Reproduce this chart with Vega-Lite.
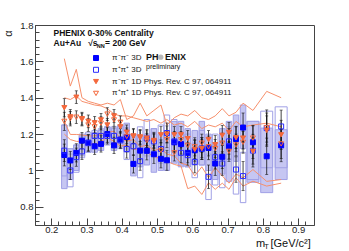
{
"$schema": "https://vega.github.io/schema/vega-lite/v6.json",
"width": 279, "height": 200,
"autosize": {"type": "none"},
"padding": {"left": 35, "top": 25, "right": 35, "bottom": 26},
"config": {"font": "Liberation Sans", "view": {"stroke": "#444", "strokeWidth": 1},
  "axis": {"grid": false, "domainColor": "#444", "tickColor": "#444", "labelColor": "#222", "labelFontSize": 9.5, "labelFont": "Liberation Sans"},
  "legend": {"orient": "none", "legendX": 57, "legendY": 29, "title": null, "labelFontSize": 8, "labelFont": "Liberation Sans", "labelColor": "#222", "symbolSize": 25, "symbolStrokeWidth": 1, "rowPadding": 1.8, "labelOffset": 12, "padding": 0}},
"datasets": {
"pts": [
{"x":0.237,"s":"π⁻π⁻ 3D","a":1.085,"e":0.06,"lo":0.90,"hi":1.25},{"x":0.237,"s":"π⁺π⁺ 3D","a":1.109,"e":0.06,"lo":0.97,"hi":1.25},{"x":0.237,"s":"π⁻π⁻ 1D Phys. Rev. C 97, 064911","a":1.345,"e":0.05},{"x":0.237,"s":"π⁺π⁺ 1D Phys. Rev. C 97, 064911","a":1.27,"e":0.05},
{"x":0.254,"s":"π⁻π⁻ 3D","a":1.055,"e":0.05,"lo":0.95,"hi":1.12},{"x":0.254,"s":"π⁺π⁺ 3D","a":1.0,"e":0.05,"lo":0.91,"hi":1.09},{"x":0.254,"s":"π⁻π⁻ 1D Phys. Rev. C 97, 064911","a":1.295,"e":0.04},{"x":0.254,"s":"π⁺π⁺ 1D Phys. Rev. C 97, 064911","a":1.285,"e":0.04},
{"x":0.271,"s":"π⁻π⁻ 3D","a":1.097,"e":0.05,"lo":1.0,"hi":1.14},{"x":0.271,"s":"π⁺π⁺ 3D","a":1.073,"e":0.05,"lo":0.99,"hi":1.14},{"x":0.271,"s":"π⁻π⁻ 1D Phys. Rev. C 97, 064911","a":1.403,"e":0.035},{"x":0.271,"s":"π⁺π⁺ 1D Phys. Rev. C 97, 064911","a":1.293,"e":0.035},
{"x":0.287,"s":"π⁻π⁻ 3D","a":1.164,"e":0.045,"lo":1.08,"hi":1.20},{"x":0.287,"s":"π⁺π⁺ 3D","a":1.105,"e":0.045,"lo":1.07,"hi":1.19},{"x":0.287,"s":"π⁻π⁻ 1D Phys. Rev. C 97, 064911","a":1.285,"e":0.035},{"x":0.287,"s":"π⁺π⁺ 1D Phys. Rev. C 97, 064911","a":1.28,"e":0.035},
{"x":0.305,"s":"π⁻π⁻ 3D","a":1.153,"e":0.045,"lo":1.10,"hi":1.20},{"x":0.305,"s":"π⁺π⁺ 3D","a":1.15,"e":0.045,"lo":1.10,"hi":1.21},{"x":0.305,"s":"π⁻π⁻ 1D Phys. Rev. C 97, 064911","a":1.27,"e":0.035},{"x":0.305,"s":"π⁺π⁺ 1D Phys. Rev. C 97, 064911","a":1.25,"e":0.035},
{"x":0.323,"s":"π⁻π⁻ 3D","a":1.133,"e":0.045,"lo":1.10,"hi":1.21},{"x":0.323,"s":"π⁺π⁺ 3D","a":1.19,"e":0.045,"lo":1.13,"hi":1.22},{"x":0.323,"s":"π⁻π⁻ 1D Phys. Rev. C 97, 064911","a":1.262,"e":0.035},{"x":0.323,"s":"π⁺π⁺ 1D Phys. Rev. C 97, 064911","a":1.24,"e":0.035},
{"x":0.341,"s":"π⁻π⁻ 3D","a":1.146,"e":0.045,"lo":1.11,"hi":1.22},{"x":0.341,"s":"π⁺π⁺ 3D","a":1.19,"e":0.045,"lo":1.14,"hi":1.23},{"x":0.341,"s":"π⁻π⁻ 1D Phys. Rev. C 97, 064911","a":1.278,"e":0.035},{"x":0.341,"s":"π⁺π⁺ 1D Phys. Rev. C 97, 064911","a":1.26,"e":0.035},
{"x":0.359,"s":"π⁻π⁻ 3D","a":1.20,"e":0.045,"lo":1.15,"hi":1.24},{"x":0.359,"s":"π⁺π⁺ 3D","a":1.19,"e":0.045,"lo":1.14,"hi":1.24},{"x":0.359,"s":"π⁻π⁻ 1D Phys. Rev. C 97, 064911","a":1.25,"e":0.035},{"x":0.359,"s":"π⁺π⁺ 1D Phys. Rev. C 97, 064911","a":1.31,"e":0.035},
{"x":0.378,"s":"π⁻π⁻ 3D","a":1.138,"e":0.045,"lo":1.11,"hi":1.23},{"x":0.378,"s":"π⁺π⁺ 3D","a":1.19,"e":0.045,"lo":1.14,"hi":1.24},{"x":0.378,"s":"π⁻π⁻ 1D Phys. Rev. C 97, 064911","a":1.30,"e":0.035},{"x":0.378,"s":"π⁺π⁺ 1D Phys. Rev. C 97, 064911","a":1.278,"e":0.035},
{"x":0.396,"s":"π⁻π⁻ 3D","a":1.17,"e":0.045,"lo":1.13,"hi":1.25},{"x":0.396,"s":"π⁺π⁺ 3D","a":1.165,"e":0.045,"lo":1.12,"hi":1.24},{"x":0.396,"s":"π⁻π⁻ 1D Phys. Rev. C 97, 064911","a":1.24,"e":0.035},{"x":0.396,"s":"π⁺π⁺ 1D Phys. Rev. C 97, 064911","a":1.265,"e":0.035},
{"x":0.414,"s":"π⁻π⁻ 3D","a":1.184,"e":0.05,"lo":1.10,"hi":1.26},{"x":0.414,"s":"π⁺π⁺ 3D","a":1.118,"e":0.05,"lo":1.06,"hi":1.19},{"x":0.414,"s":"π⁻π⁻ 1D Phys. Rev. C 97, 064911","a":1.21,"e":0.04},{"x":0.414,"s":"π⁺π⁺ 1D Phys. Rev. C 97, 064911","a":1.187,"e":0.04},
{"x":0.433,"s":"π⁻π⁻ 3D","a":1.036,"e":0.05,"lo":0.97,"hi":1.20},{"x":0.433,"s":"π⁺π⁺ 3D","a":1.133,"e":0.05,"lo":1.05,"hi":1.19},{"x":0.433,"s":"π⁻π⁻ 1D Phys. Rev. C 97, 064911","a":1.187,"e":0.04},{"x":0.433,"s":"π⁺π⁺ 1D Phys. Rev. C 97, 064911","a":1.19,"e":0.04},
{"x":0.452,"s":"π⁻π⁻ 3D","a":1.109,"e":0.05,"lo":1.02,"hi":1.18},{"x":0.452,"s":"π⁺π⁺ 3D","a":1.051,"e":0.05,"lo":0.96,"hi":1.24},{"x":0.452,"s":"π⁻π⁻ 1D Phys. Rev. C 97, 064911","a":1.18,"e":0.04},{"x":0.452,"s":"π⁺π⁺ 1D Phys. Rev. C 97, 064911","a":1.185,"e":0.04},
{"x":0.471,"s":"π⁻π⁻ 3D","a":1.108,"e":0.05,"lo":1.03,"hi":1.20},{"x":0.471,"s":"π⁺π⁺ 3D","a":1.176,"e":0.05,"lo":1.08,"hi":1.28},{"x":0.471,"s":"π⁻π⁻ 1D Phys. Rev. C 97, 064911","a":1.178,"e":0.04},{"x":0.471,"s":"π⁺π⁺ 1D Phys. Rev. C 97, 064911","a":1.165,"e":0.04},
{"x":0.491,"s":"π⁻π⁻ 3D","a":1.089,"e":0.05,"lo":0.99,"hi":1.23},{"x":0.491,"s":"π⁺π⁺ 3D","a":1.16,"e":0.05,"lo":1.08,"hi":1.23},{"x":0.491,"s":"π⁻π⁻ 1D Phys. Rev. C 97, 064911","a":1.165,"e":0.04},{"x":0.491,"s":"π⁺π⁺ 1D Phys. Rev. C 97, 064911","a":1.16,"e":0.04},
{"x":0.511,"s":"π⁻π⁻ 3D","a":1.064,"e":0.05,"lo":1.0,"hi":1.20},{"x":0.511,"s":"π⁺π⁺ 3D","a":1.118,"e":0.05,"lo":1.04,"hi":1.25},{"x":0.511,"s":"π⁻π⁻ 1D Phys. Rev. C 97, 064911","a":1.196,"e":0.045},{"x":0.511,"s":"π⁺π⁺ 1D Phys. Rev. C 97, 064911","a":1.11,"e":0.045},
{"x":0.528,"s":"π⁻π⁻ 3D","a":1.056,"e":0.055,"lo":1.0,"hi":1.20},{"x":0.528,"s":"π⁺π⁺ 3D","a":1.206,"e":0.055,"lo":1.10,"hi":1.305},{"x":0.528,"s":"π⁻π⁻ 1D Phys. Rev. C 97, 064911","a":1.20,"e":0.045},{"x":0.528,"s":"π⁺π⁺ 1D Phys. Rev. C 97, 064911","a":1.17,"e":0.045},
{"x":0.549,"s":"π⁻π⁻ 3D","a":1.155,"e":0.055,"lo":1.04,"hi":1.27},{"x":0.549,"s":"π⁺π⁺ 3D","a":1.16,"e":0.055,"lo":1.08,"hi":1.28},{"x":0.549,"s":"π⁻π⁻ 1D Phys. Rev. C 97, 064911","a":1.196,"e":0.045},{"x":0.549,"s":"π⁺π⁺ 1D Phys. Rev. C 97, 064911","a":1.097,"e":0.045},
{"x":0.568,"s":"π⁻π⁻ 3D","a":1.145,"e":0.055,"lo":1.02,"hi":1.27},{"x":0.568,"s":"π⁺π⁺ 3D","a":1.097,"e":0.055,"lo":1.03,"hi":1.20},{"x":0.568,"s":"π⁻π⁻ 1D Phys. Rev. C 97, 064911","a":1.196,"e":0.045},{"x":0.568,"s":"π⁺π⁺ 1D Phys. Rev. C 97, 064911","a":1.169,"e":0.045},
{"x":0.587,"s":"π⁻π⁻ 3D","a":1.097,"e":0.055,"lo":1.02,"hi":1.23},{"x":0.587,"s":"π⁺π⁺ 3D","a":1.084,"e":0.055,"lo":1.02,"hi":1.20},{"x":0.587,"s":"π⁻π⁻ 1D Phys. Rev. C 97, 064911","a":1.175,"e":0.045},{"x":0.587,"s":"π⁺π⁺ 1D Phys. Rev. C 97, 064911","a":1.138,"e":0.045},
{"x":0.607,"s":"π⁻π⁻ 3D","a":1.111,"e":0.06,"lo":1.03,"hi":1.22},{"x":0.607,"s":"π⁺π⁺ 3D","a":1.047,"e":0.06,"lo":0.96,"hi":1.15},{"x":0.607,"s":"π⁻π⁻ 1D Phys. Rev. C 97, 064911","a":1.115,"e":0.05},{"x":0.607,"s":"π⁺π⁺ 1D Phys. Rev. C 97, 064911","a":1.13,"e":0.05},
{"x":0.627,"s":"π⁻π⁻ 3D","a":1.12,"e":0.06,"lo":1.03,"hi":1.27},{"x":0.627,"s":"π⁺π⁺ 3D","a":1.12,"e":0.06,"lo":1.03,"hi":1.22},{"x":0.627,"s":"π⁻π⁻ 1D Phys. Rev. C 97, 064911","a":1.12,"e":0.05},{"x":0.627,"s":"π⁺π⁺ 1D Phys. Rev. C 97, 064911","a":1.15,"e":0.05},
{"x":0.646,"s":"π⁻π⁻ 3D","a":1.124,"e":0.065,"lo":1.0,"hi":1.20},{"x":0.646,"s":"π⁺π⁺ 3D","a":0.965,"e":0.065,"lo":0.84,"hi":1.09},{"x":0.646,"s":"π⁻π⁻ 1D Phys. Rev. C 97, 064911","a":1.17,"e":0.05},{"x":0.646,"s":"π⁺π⁺ 1D Phys. Rev. C 97, 064911","a":1.13,"e":0.05},
{"x":0.665,"s":"π⁻π⁻ 3D","a":1.038,"e":0.065,"lo":0.95,"hi":1.15},{"x":0.665,"s":"π⁺π⁺ 3D","a":1.073,"e":0.065,"lo":0.92,"hi":1.20},{"x":0.665,"s":"π⁻π⁻ 1D Phys. Rev. C 97, 064911","a":1.142,"e":0.05},{"x":0.665,"s":"π⁺π⁺ 1D Phys. Rev. C 97, 064911","a":1.12,"e":0.05},
{"x":0.685,"s":"π⁻π⁻ 3D","a":1.075,"e":0.065,"lo":0.98,"hi":1.23},{"x":0.685,"s":"π⁺π⁺ 3D","a":1.038,"e":0.065,"lo":0.905,"hi":1.16},{"x":0.685,"s":"π⁻π⁻ 1D Phys. Rev. C 97, 064911","a":1.193,"e":0.055},{"x":0.685,"s":"π⁺π⁺ 1D Phys. Rev. C 97, 064911","a":1.15,"e":0.055},
{"x":0.704,"s":"π⁻π⁻ 3D","a":1.133,"e":0.07,"lo":0.94,"hi":1.27},{"x":0.704,"s":"π⁺π⁺ 3D","a":1.16,"e":0.07,"lo":1.06,"hi":1.24},{"x":0.704,"s":"π⁻π⁻ 1D Phys. Rev. C 97, 064911","a":1.209,"e":0.055},{"x":0.704,"s":"π⁺π⁺ 1D Phys. Rev. C 97, 064911","a":1.105,"e":0.055},
{"x":0.724,"s":"π⁻π⁻ 3D","a":1.173,"e":0.07,"lo":1.05,"hi":1.305},{"x":0.724,"s":"π⁺π⁺ 3D","a":1.005,"e":0.07,"lo":0.87,"hi":1.13},{"x":0.724,"s":"π⁻π⁻ 1D Phys. Rev. C 97, 064911","a":1.18,"e":0.06},{"x":0.724,"s":"π⁺π⁺ 1D Phys. Rev. C 97, 064911","a":1.14,"e":0.06},
{"x":0.744,"s":"π⁻π⁻ 3D","a":1.236,"e":0.08,"lo":1.12,"hi":1.36},{"x":0.744,"s":"π⁺π⁺ 3D","a":0.969,"e":0.08,"lo":0.823,"hi":1.10},{"x":0.744,"s":"π⁻π⁻ 1D Phys. Rev. C 97, 064911","a":1.178,"e":0.06},{"x":0.744,"s":"π⁺π⁺ 1D Phys. Rev. C 97, 064911","a":1.155,"e":0.06},
{"x":0.772,"s":"π⁻π⁻ 3D","a":1.155,"e":0.09,"lo":0.935,"hi":1.27},{"x":0.772,"s":"π⁺π⁺ 3D","a":1.109,"e":0.09,"lo":0.95,"hi":1.27},{"x":0.772,"s":"π⁻π⁻ 1D Phys. Rev. C 97, 064911","a":1.105,"e":0.07},{"x":0.772,"s":"π⁺π⁺ 1D Phys. Rev. C 97, 064911","a":1.178,"e":0.07},
{"x":0.811,"s":"π⁻π⁻ 3D","a":1.078,"e":0.1,"lo":0.878,"hi":1.233},{"x":0.811,"s":"π⁺π⁺ 3D","a":1.233,"e":0.1,"lo":1.015,"hi":1.326},{"x":0.811,"s":"π⁻π⁻ 1D Phys. Rev. C 97, 064911","a":1.22,"e":0.08},{"x":0.811,"s":"π⁺π⁺ 1D Phys. Rev. C 97, 064911","a":1.236,"e":0.08},
{"x":0.852,"s":"π⁻π⁻ 3D","a":1.138,"e":0.09,"lo":0.95,"hi":1.224},{"x":0.852,"s":"π⁺π⁺ 3D","a":1.242,"e":0.09,"lo":1.015,"hi":1.35},{"x":0.852,"s":"π⁻π⁻ 1D Phys. Rev. C 97, 064911","a":1.196,"e":0.08},{"x":0.852,"s":"π⁺π⁺ 1D Phys. Rev. C 97, 064911","a":1.146,"e":0.08}
],
"lines": [
{"x":0.237,"l":"U1","a":1.615},{"x":0.254,"l":"U1","a":1.464},{"x":0.271,"l":"U1","a":1.556},{"x":0.287,"l":"U1","a":1.40},{"x":0.305,"l":"U1","a":1.38},{"x":0.323,"l":"U1","a":1.37},{"x":0.341,"l":"U1","a":1.36},{"x":0.359,"l":"U1","a":1.37},{"x":0.378,"l":"U1","a":1.36},{"x":0.396,"l":"U1","a":1.39},{"x":0.414,"l":"U1","a":1.28},{"x":0.433,"l":"U1","a":1.30},{"x":0.452,"l":"U1","a":1.37},{"x":0.471,"l":"U1","a":1.30},{"x":0.491,"l":"U1","a":1.33},{"x":0.511,"l":"U1","a":1.36},{"x":0.528,"l":"U1","a":1.25},{"x":0.549,"l":"U1","a":1.29},{"x":0.568,"l":"U1","a":1.31},{"x":0.587,"l":"U1","a":1.30},{"x":0.607,"l":"U1","a":1.33},{"x":0.627,"l":"U1","a":1.29},{"x":0.646,"l":"U1","a":1.28},{"x":0.665,"l":"U1","a":1.30},{"x":0.685,"l":"U1","a":1.34},{"x":0.704,"l":"U1","a":1.30},{"x":0.724,"l":"U1","a":1.32},{"x":0.744,"l":"U1","a":1.37},{"x":0.772,"l":"U1","a":1.33},{"x":0.811,"l":"U1","a":1.435},{"x":0.852,"l":"U1","a":1.40},
{"x":0.237,"l":"U2","a":1.40},{"x":0.254,"l":"U2","a":1.39},{"x":0.271,"l":"U2","a":1.41},{"x":0.287,"l":"U2","a":1.38},{"x":0.305,"l":"U2","a":1.37},{"x":0.323,"l":"U2","a":1.36},{"x":0.341,"l":"U2","a":1.355},{"x":0.359,"l":"U2","a":1.34},{"x":0.378,"l":"U2","a":1.31},{"x":0.396,"l":"U2","a":1.30},{"x":0.414,"l":"U2","a":1.30},{"x":0.433,"l":"U2","a":1.29},{"x":0.452,"l":"U2","a":1.28},{"x":0.471,"l":"U2","a":1.27},{"x":0.491,"l":"U2","a":1.28},{"x":0.511,"l":"U2","a":1.26},{"x":0.528,"l":"U2","a":1.28},{"x":0.549,"l":"U2","a":1.25},{"x":0.568,"l":"U2","a":1.26},{"x":0.587,"l":"U2","a":1.24},{"x":0.607,"l":"U2","a":1.27},{"x":0.627,"l":"U2","a":1.23},{"x":0.646,"l":"U2","a":1.25},{"x":0.665,"l":"U2","a":1.24},{"x":0.685,"l":"U2","a":1.26},{"x":0.704,"l":"U2","a":1.22},{"x":0.724,"l":"U2","a":1.27},{"x":0.744,"l":"U2","a":1.24},{"x":0.772,"l":"U2","a":1.25},{"x":0.811,"l":"U2","a":1.26},{"x":0.852,"l":"U2","a":1.24},
{"x":0.237,"l":"L1","a":1.27},{"x":0.254,"l":"L1","a":1.198},{"x":0.271,"l":"L1","a":1.198},{"x":0.287,"l":"L1","a":1.195},{"x":0.305,"l":"L1","a":1.19},{"x":0.323,"l":"L1","a":1.19},{"x":0.341,"l":"L1","a":1.20},{"x":0.359,"l":"L1","a":1.21},{"x":0.378,"l":"L1","a":1.216},{"x":0.396,"l":"L1","a":1.18},{"x":0.414,"l":"L1","a":1.16},{"x":0.433,"l":"L1","a":1.17},{"x":0.452,"l":"L1","a":1.13},{"x":0.471,"l":"L1","a":1.14},{"x":0.491,"l":"L1","a":1.11},{"x":0.511,"l":"L1","a":1.12},{"x":0.528,"l":"L1","a":1.09},{"x":0.549,"l":"L1","a":1.08},{"x":0.568,"l":"L1","a":1.04},{"x":0.587,"l":"L1","a":1.03},{"x":0.607,"l":"L1","a":0.97},{"x":0.627,"l":"L1","a":1.02},{"x":0.646,"l":"L1","a":0.96},{"x":0.665,"l":"L1","a":1.015},{"x":0.685,"l":"L1","a":0.97},{"x":0.704,"l":"L1","a":0.93},{"x":0.724,"l":"L1","a":0.98},{"x":0.744,"l":"L1","a":0.96},{"x":0.772,"l":"L1","a":1.005},{"x":0.811,"l":"L1","a":0.94},{"x":0.852,"l":"L1","a":0.95},
{"x":0.237,"l":"L2","a":1.20},{"x":0.254,"l":"L2","a":1.17},{"x":0.271,"l":"L2","a":1.16},{"x":0.287,"l":"L2","a":1.16},{"x":0.305,"l":"L2","a":1.15},{"x":0.323,"l":"L2","a":1.143},{"x":0.341,"l":"L2","a":1.16},{"x":0.359,"l":"L2","a":1.18},{"x":0.378,"l":"L2","a":1.16},{"x":0.396,"l":"L2","a":1.134},{"x":0.414,"l":"L2","a":1.14},{"x":0.433,"l":"L2","a":1.115},{"x":0.452,"l":"L2","a":1.12},{"x":0.471,"l":"L2","a":1.097},{"x":0.491,"l":"L2","a":1.08},{"x":0.511,"l":"L2","a":1.06},{"x":0.528,"l":"L2","a":1.05},{"x":0.549,"l":"L2","a":1.033},{"x":0.568,"l":"L2","a":1.024},{"x":0.587,"l":"L2","a":0.90},{"x":0.607,"l":"L2","a":0.914},{"x":0.627,"l":"L2","a":0.868},{"x":0.646,"l":"L2","a":0.932},{"x":0.665,"l":"L2","a":0.896},{"x":0.685,"l":"L2","a":0.93},{"x":0.704,"l":"L2","a":0.896},{"x":0.724,"l":"L2","a":0.96},{"x":0.744,"l":"L2","a":0.914},{"x":0.772,"l":"L2","a":0.941},{"x":0.811,"l":"L2","a":0.914},{"x":0.852,"l":"L2","a":0.93}
]
},
"layer": [
{"data": {"name": "pts"},
 "transform": [{"filter": "datum.s === 'π⁻π⁻ 3D' && datum.x < 0.76"}],
 "mark": {"type": "bar", "width": 5.5, "fill": "#c6c6f2", "stroke": "#a0a0e6", "strokeWidth": 1},
 "encoding": {
  "x": {"field": "x", "type": "quantitative", "title": null, "scale": {"domain": [0.168, 0.931], "nice": false, "zero": false},
   "axis": {"values": [0.18,0.2,0.22,0.24,0.26,0.28,0.3,0.32,0.34,0.36,0.38,0.4,0.42,0.44,0.46,0.48,0.5,0.52,0.54,0.56,0.58,0.6,0.62,0.64,0.66,0.68,0.7,0.72,0.74,0.76,0.78,0.8,0.82,0.84,0.86,0.88,0.9,0.92], "tickCount": 200,
    "labelExpr": "abs(datum.value*10 - round(datum.value*10)) < 0.001 ? format(datum.value, '~g') : ''",
    "tickSize": {"condition": {"test": "abs(datum.value*10 - round(datum.value*10)) < 0.001", "value": -7}, "value": -4},
    "labelPadding": 6, "labelFlush": false, "labelOverlap": false}},
  "y": {"field": "lo", "type": "quantitative", "title": "α", "scale": {"domain": [0.7, 1.8], "nice": false, "zero": false},
   "axis": {"titleX": -27, "titleY": 8, "titleAngle": -90, "titleFontSize": 11, "titleFontWeight": "normal", "titleColor": "#222", "titleAlign": "center", "titleBaseline": "middle",
    "values": [0.72,0.76,0.8,0.84,0.88,0.92,0.96,1,1.04,1.08,1.12,1.16,1.2,1.24,1.28,1.32,1.36,1.4,1.44,1.48,1.52,1.56,1.6,1.64,1.68,1.72,1.76,1.8], "tickCount": 200,
    "labelExpr": "abs(datum.value*5 - round(datum.value*5)) < 0.001 ? format(datum.value, '~g') : ''",
    "tickSize": {"condition": {"test": "abs(datum.value*5 - round(datum.value*5)) < 0.001", "value": -8}, "value": -4},
    "labelPadding": 10, "labelFlush": false, "labelOverlap": false}},
  "y2": {"field": "hi"}}},
{"data": {"name": "pts"},
 "transform": [{"filter": "datum.s === 'π⁻π⁻ 3D' && datum.x > 0.76"}],
 "mark": {"type": "bar", "width": 12, "fill": "#c6c6f2", "stroke": "#a0a0e6", "strokeWidth": 1},
 "encoding": {"x": {"field": "x", "type": "quantitative", "title": null, "scale": {"domain": [0.168, 0.931], "nice": false, "zero": false}}, "y": {"field": "lo", "type": "quantitative", "title": "α", "scale": {"domain": [0.7, 1.8], "nice": false, "zero": false}}, "y2": {"field": "hi"}}},
{"data": {"name": "pts"},
 "transform": [{"filter": "datum.s === 'π⁺π⁺ 3D' && datum.x < 0.76"}],
 "mark": {"type": "bar", "width": 5.5, "fill": "transparent", "stroke": "#a0a0e6", "strokeWidth": 1},
 "encoding": {"x": {"field": "x", "type": "quantitative", "title": null, "scale": {"domain": [0.168, 0.931], "nice": false, "zero": false}}, "y": {"field": "lo", "type": "quantitative", "title": "α", "scale": {"domain": [0.7, 1.8], "nice": false, "zero": false}}, "y2": {"field": "hi"}}},
{"data": {"name": "pts"},
 "transform": [{"filter": "datum.s === 'π⁺π⁺ 3D' && datum.x > 0.76"}],
 "mark": {"type": "bar", "width": 12, "fill": "transparent", "stroke": "#a0a0e6", "strokeWidth": 1},
 "encoding": {"x": {"field": "x", "type": "quantitative", "title": null, "scale": {"domain": [0.168, 0.931], "nice": false, "zero": false}}, "y": {"field": "lo", "type": "quantitative", "title": "α", "scale": {"domain": [0.7, 1.8], "nice": false, "zero": false}}, "y2": {"field": "hi"}}},
{"data": {"name": "lines"},
 "mark": {"type": "line", "color": "#f7906c", "strokeWidth": 1},
 "encoding": {"x": {"field": "x", "type": "quantitative", "title": null, "scale": {"domain": [0.168, 0.931], "nice": false, "zero": false}}, "y": {"field": "a", "type": "quantitative", "title": "α", "scale": {"domain": [0.7, 1.8], "nice": false, "zero": false}}, "detail": {"field": "l"}}},
{"data": {"name": "pts"},
 "mark": {"type": "errorbar", "color": "#111", "thickness": 0.8, "ticks": {"size": 3, "color": "#111"}},
 "encoding": {"x": {"field": "x", "type": "quantitative", "title": null, "scale": {"domain": [0.168, 0.931], "nice": false, "zero": false}}, "y": {"field": "a", "type": "quantitative", "title": "α", "scale": {"domain": [0.7, 1.8], "nice": false, "zero": false}}, "yError": {"field": "e"}}},
{"data": {"name": "pts"},
 "mark": {"type": "point", "strokeWidth": 1, "opacity": 1},
 "encoding": {
  "x": {"field": "x", "type": "quantitative", "title": null, "scale": {"domain": [0.168, 0.931], "nice": false, "zero": false}},
  "y": {"field": "a", "type": "quantitative", "title": "α", "scale": {"domain": [0.7, 1.8], "nice": false, "zero": false}},
  "shape": {"field": "s", "type": "nominal", "scale": {"domain": ["π⁻π⁻ 3D","π⁺π⁺ 3D","π⁻π⁻ 1D Phys. Rev. C 97, 064911","π⁺π⁺ 1D Phys. Rev. C 97, 064911"], "range": ["square","square","triangle-down","triangle-down"]}},
  "fill": {"field": "s", "type": "nominal", "scale": {"domain": ["π⁻π⁻ 3D","π⁺π⁺ 3D","π⁻π⁻ 1D Phys. Rev. C 97, 064911","π⁺π⁺ 1D Phys. Rev. C 97, 064911"], "range": ["#0000ff","transparent","#f4683c","transparent"]}},
  "stroke": {"field": "s", "type": "nominal", "scale": {"domain": ["π⁻π⁻ 3D","π⁺π⁺ 3D","π⁻π⁻ 1D Phys. Rev. C 97, 064911","π⁺π⁺ 1D Phys. Rev. C 97, 064911"], "range": ["#0000ff","#2b2bff","#f4683c","#f4683c"]}},
  "size": {"value": 25}}},
{"data": {"values": [{}]},
 "mark": {"type": "text", "text": "PHENIX 0-30% Centrality", "align": "left", "baseline": "middle", "fontSize": 8.5, "fontWeight": "bold", "color": "#111"},
 "encoding": {"x": {"datum": 0.2063, "type": "quantitative", "title": null, "scale": {"domain": [0.168, 0.931], "nice": false, "zero": false}}, "y": {"datum": 1.756, "type": "quantitative", "title": "α", "scale": {"domain": [0.7, 1.8], "nice": false, "zero": false}}}},
{"data": {"values": [{}]},
 "mark": {"type": "text", "text": "Au+Au", "align": "left", "baseline": "middle", "fontSize": 8.5, "fontWeight": "bold", "color": "#111"},
 "encoding": {"x": {"datum": 0.2063, "type": "quantitative", "title": null, "scale": {"domain": [0.168, 0.931], "nice": false, "zero": false}}, "y": {"datum": 1.699, "type": "quantitative", "title": "α", "scale": {"domain": [0.7, 1.8], "nice": false, "zero": false}}}},
{"data": {"values": [{}]},
 "mark": {"type": "text", "text": "√s", "align": "left", "baseline": "middle", "fontSize": 8.5, "fontWeight": "bold", "color": "#111"},
 "encoding": {"x": {"datum": 0.3047, "type": "quantitative", "title": null, "scale": {"domain": [0.168, 0.931], "nice": false, "zero": false}}, "y": {"datum": 1.699, "type": "quantitative", "title": "α", "scale": {"domain": [0.7, 1.8], "nice": false, "zero": false}}}},
{"data": {"values": [{}]},
 "mark": {"type": "text", "text": "NN", "align": "left", "baseline": "middle", "fontSize": 5.5, "fontWeight": "bold", "color": "#111"},
 "encoding": {"x": {"datum": 0.3293, "type": "quantitative", "title": null, "scale": {"domain": [0.168, 0.931], "nice": false, "zero": false}}, "y": {"datum": 1.684, "type": "quantitative", "title": "α", "scale": {"domain": [0.7, 1.8], "nice": false, "zero": false}}}},
{"data": {"values": [{}]},
 "mark": {"type": "text", "text": "= 200 GeV", "align": "left", "baseline": "middle", "fontSize": 8.5, "fontWeight": "bold", "color": "#111"},
 "encoding": {"x": {"datum": 0.3526, "type": "quantitative", "title": null, "scale": {"domain": [0.168, 0.931], "nice": false, "zero": false}}, "y": {"datum": 1.699, "type": "quantitative", "title": "α", "scale": {"domain": [0.7, 1.8], "nice": false, "zero": false}}}},
{"data": {"values": [{}]},
 "mark": {"type": "text", "text": "PH", "align": "left", "baseline": "middle", "fontSize": 9, "fontWeight": "bold", "color": "#111"},
 "encoding": {"x": {"datum": 0.4688, "type": "quantitative", "title": null, "scale": {"domain": [0.168, 0.931], "nice": false, "zero": false}}, "y": {"datum": 1.623, "type": "quantitative", "title": "α", "scale": {"domain": [0.7, 1.8], "nice": false, "zero": false}}}},
{"data": {"values": [{}]},
 "mark": {"type": "point", "shape": "circle", "filled": true, "color": "#9a9a9a", "size": 28},
 "encoding": {"x": {"datum": 0.5105, "type": "quantitative", "title": null, "scale": {"domain": [0.168, 0.931], "nice": false, "zero": false}}, "y": {"datum": 1.623, "type": "quantitative", "title": "α", "scale": {"domain": [0.7, 1.8], "nice": false, "zero": false}}}},
{"data": {"values": [{}]},
 "mark": {"type": "text", "text": "ENIX", "align": "left", "baseline": "middle", "fontSize": 9, "fontWeight": "bold", "color": "#111"},
 "encoding": {"x": {"datum": 0.5222, "type": "quantitative", "title": null, "scale": {"domain": [0.168, 0.931], "nice": false, "zero": false}}, "y": {"datum": 1.623, "type": "quantitative", "title": "α", "scale": {"domain": [0.7, 1.8], "nice": false, "zero": false}}}},
{"data": {"values": [{}]},
 "mark": {"type": "text", "text": "preliminary", "align": "left", "baseline": "middle", "fontSize": 7, "color": "#111"},
 "encoding": {"x": {"datum": 0.4688, "type": "quantitative", "title": null, "scale": {"domain": [0.168, 0.931], "nice": false, "zero": false}}, "y": {"datum": 1.57, "type": "quantitative", "title": "α", "scale": {"domain": [0.7, 1.8], "nice": false, "zero": false}}}},
{"data": {"values": [{}]},
 "mark": {"type": "text", "text": "m", "align": "left", "baseline": "middle", "fontSize": 11, "color": "#111"},
 "encoding": {"x": {"datum": 0.7805, "type": "quantitative", "title": null, "scale": {"domain": [0.168, 0.931], "nice": false, "zero": false}}, "y": {"datum": 0.5954, "type": "quantitative", "title": "α", "scale": {"domain": [0.7, 1.8], "nice": false, "zero": false}}}},
{"data": {"values": [{}]},
 "mark": {"type": "text", "text": "T", "align": "left", "baseline": "middle", "fontSize": 7.5, "color": "#111"},
 "encoding": {"x": {"datum": 0.8038, "type": "quantitative", "title": null, "scale": {"domain": [0.168, 0.931], "nice": false, "zero": false}}, "y": {"datum": 0.579, "type": "quantitative", "title": "α", "scale": {"domain": [0.7, 1.8], "nice": false, "zero": false}}}},
{"data": {"values": [{}]},
 "mark": {"type": "text", "text": "[GeV/c²]", "align": "left", "baseline": "middle", "fontSize": 11, "color": "#111"},
 "encoding": {"x": {"datum": 0.8215, "type": "quantitative", "title": null, "scale": {"domain": [0.168, 0.931], "nice": false, "zero": false}}, "y": {"datum": 0.5954, "type": "quantitative", "title": "α", "scale": {"domain": [0.7, 1.8], "nice": false, "zero": false}}}}
]
}
